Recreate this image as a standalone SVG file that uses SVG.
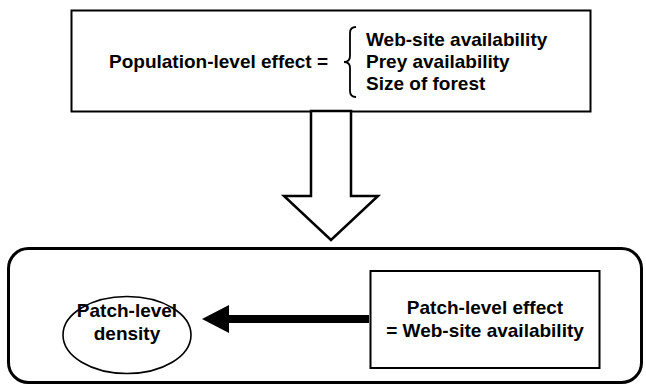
<svg xmlns="http://www.w3.org/2000/svg" width="646" height="386" viewBox="0 0 646 386">
<style>
text{font-family:"Liberation Sans",Arial,Helvetica,sans-serif;font-weight:bold;font-size:19px;fill:#000}
.box{fill:#fff;stroke:#000;stroke-width:2}
</style>
<rect width="646" height="386" fill="#fff"/>
<g id="population-effect">
<rect class="box" x="71.5" y="10.5" width="519" height="101"/>
<text x="109" y="68">Population-level effect =</text>
<path d="M356,27 Q350,27 350,33 L350,56 Q350,62 344,62 Q350,62 350,68 L350,91 Q350,97 356,97" fill="none" stroke="#000" stroke-width="1.8"/>
<text x="366" y="46">Web-site availability</text>
<text x="366" y="68">Prey availability</text>
<text x="366" y="90">Size of forest</text>
</g>
<g id="connectors">
<polygon points="311,111 311,196 284,196 331,240 378,196 351,196 351,111" fill="#fff" stroke="#000" stroke-width="2.5"/>
<line x1="369" y1="319" x2="226" y2="319" stroke="#000" stroke-width="8"/>
<polygon points="229,305 202,319 229,333" fill="#000"/>
</g>
<g id="patch-container">
<rect x="8.5" y="248.5" width="633" height="134" rx="20" ry="20" fill="none" stroke="#000" stroke-width="3"/>
</g>
<g id="patch-density">
<ellipse cx="127" cy="335" rx="64" ry="38.5" fill="#fff" stroke="#000" stroke-width="1.6"/>
<text x="127" y="317" text-anchor="middle">Patch-level</text>
<text x="127" y="340" text-anchor="middle">density</text>
</g>
<g id="patch-effect">
<rect class="box" x="370.5" y="271" width="229" height="97"/>
<text x="485" y="314" text-anchor="middle">Patch-level effect</text>
<text x="485" y="337" text-anchor="middle">= Web-site availability</text>
</g>
</svg>
